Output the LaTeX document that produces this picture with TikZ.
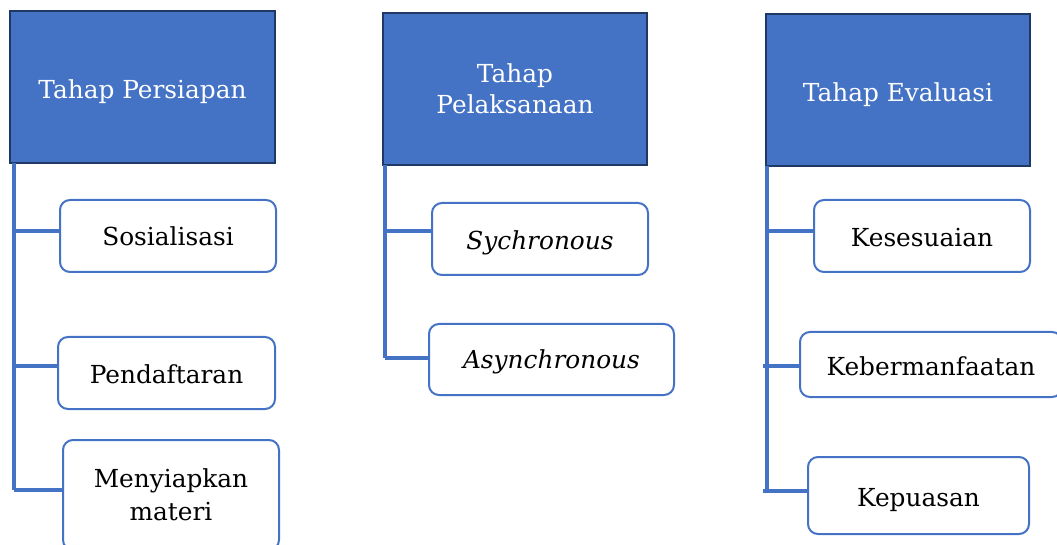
\documentclass[tikz,border=0pt]{standalone}
\usepackage{fontspec}
\setmainfont{DejaVu Serif}
\definecolor{fillblue}{HTML}{4472C4}
\definecolor{darkedge}{HTML}{1F3864}
\newcommand\lowertext[2]{\raisebox{-#1}[\height][\depth]{#2}}
\begin{document}
\begin{tikzpicture}[x=0.75pt,y=-0.75pt,
  header/.style={draw=darkedge,line width=1.5pt,fill=fillblue,text=white,align=center,inner sep=0pt,font=\fontsize{18.6}{23.5}\selectfont},
  child/.style={draw=fillblue,line width=1.5pt,fill=white,rounded corners=7.5pt,align=center,inner sep=0pt,font=\fontsize{18.6}{25}\selectfont},
  conn/.style={draw=fillblue,line width=2.5pt}]
\useasboundingbox (0,0) rectangle (1057,545);
% headers
\node[header,minimum width=198.75pt,minimum height=114pt] (h1) at (142.5,87) {\lowertext{3.75pt}{Tahap Persiapan}};
\node[header,minimum width=198pt,minimum height=114pt] (h2) at (515,89) {Tahap\\Pelaksanaan};
\node[header,minimum width=198pt,minimum height=114pt] (h3) at (898,90) {\lowertext{3.75pt}{Tahap Evaluasi}};
% children
\node[child,minimum width=162pt,minimum height=54pt] (c11) at (168,236) {Sosialisasi};
\node[child,minimum width=162.75pt,minimum height=54pt] (c12) at (166.5,373) {\lowertext{0.75pt}{Pendaftaran}};
\node[child,minimum width=162pt,minimum height=82.5pt] (c13) at (171,495) {Menyiapkan\\materi};
\node[child,minimum width=162pt,minimum height=54pt] (c21) at (540,239) {\lowertext{3pt}{\itshape Sychronous}};
\node[child,minimum width=183.75pt,minimum height=53.25pt] (c22) at (551.5,359.5) {\lowertext{2pt}{\itshape Asynchronous}};
\node[child,minimum width=162pt,minimum height=54pt] (c31) at (922,236) {\lowertext{1.5pt}{Kesesuaian}};
\node[child,minimum width=196.5pt,minimum height=48.75pt] (c32) at (931,364.5) {\lowertext{1.5pt}{Kebermanfaatan}};
\node[child,minimum width=165.75pt,minimum height=57.75pt] (c33) at (918.5,495.5) {\lowertext{3.75pt}{Kepuasan}};
% trunks and branches
\coordinate (t1) at (14,163);
\coordinate (b11) at (14,231);
\coordinate (b12) at (14,366);
\coordinate (b13) at (14,490);
\coordinate (t2) at (385,165);
\coordinate (b21) at (385,231);
\coordinate (b22) at (385,358);
\coordinate (t3) at (767,166);
\coordinate (b31) at (767,231);
\coordinate (b32) at (767,366);
\coordinate (b33) at (767,491);
\draw[conn] (t1) -- (b13);
\draw[conn] (b11) -- (b11 -| c11.west);
\draw[conn] (b12) -- (b12 -| c12.west);
\draw[conn] (b13) -- (b13 -| c13.west);
\draw[conn] (t2) -- (b22);
\draw[conn] (b21) -- (b21 -| c21.west);
\draw[conn] (b22) -- (b22 -| c22.west);
\draw[conn] (t3) -- (b33);
\draw[conn] (b31) -- (b31 -| c31.west);
\draw[conn] ([xshift=-3pt]b32) -- (b32 -| c32.west);
\draw[conn] ([xshift=-3pt]b33) -- (b33 -| c33.west);
\end{tikzpicture}
\end{document}
